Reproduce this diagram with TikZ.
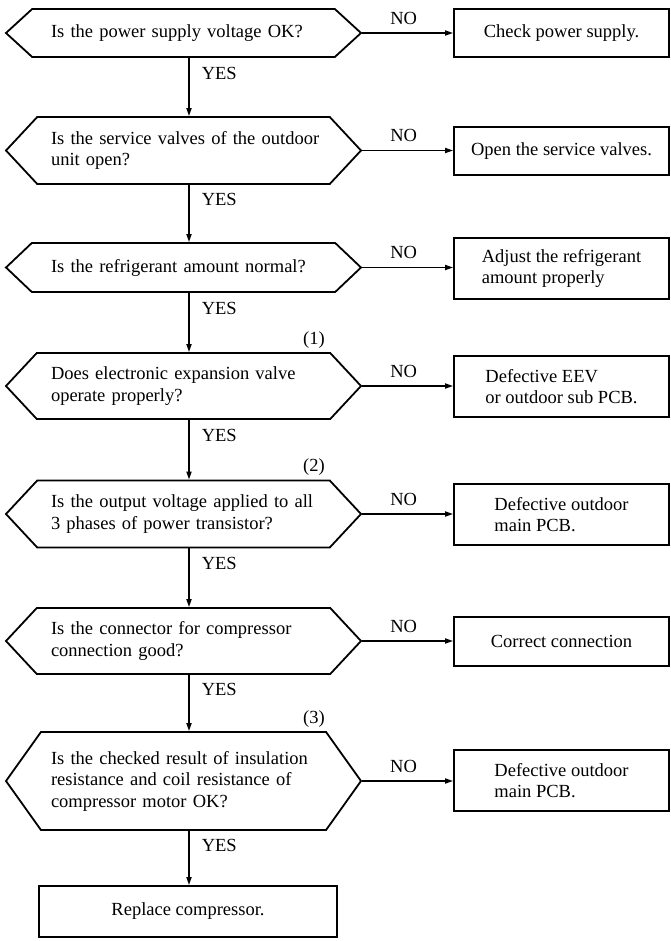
\documentclass[tikz,border=0pt]{standalone}
\usepackage{fontspec}
\setmainfont{Liberation Serif}
\usetikzlibrary{shapes.symbols,arrows.meta}

\newcommand*{\qx}{183.5}
\newcommand*{\ax}{561.5}

\begin{document}
\begin{tikzpicture}
[
	x=1pt,y=-1pt,
	every node/.style={font=\fontsize{18.5}{21.5}\selectfont},
	question/.style={signal,signal to=west and east,draw,line width=1.8pt,inner sep=0pt,text width=265pt,align=left,minimum width=355pt},
	action/.style={rectangle,draw,line width=1.8pt,inner sep=0pt,minimum width=215pt,align=left},
	lbl/.style={inner sep=0pt},
	flow/.style={->,line width=1.6pt},
	>={Triangle[length=8pt,width=5pt]}
]
	\useasboundingbox (0,0) rectangle (670,941);
	\coordinate (spine) at (189,0);

	% questions
	\node[question,minimum height=48pt,signal pointer angle=85] (q1) at (\qx,33) {Is the power supply voltage OK?};
	\node[question,minimum height=67pt,signal pointer angle=94] (q2) at (\qx,150.5) {\mbox{Is the service valves of the outdoor}\\unit open?};
	\node[question,minimum height=49pt,signal pointer angle=87] (q3) at (\qx,267.5) {Is the refrigerant amount normal?};
	\node[question,minimum height=66pt,signal pointer angle=94] (q4) at (\qx,386) {Does electronic expansion valve\\operate properly?};
	\node[question,minimum height=67pt,signal pointer angle=94] (q5) at (\qx,514) {\mbox{Is the output voltage applied to all}\\3 phases of power transistor?};
	\node[question,minimum height=66pt,signal pointer angle=94] (q6) at (\qx,641) {Is the connector for compressor\\connection good?};
	\node[question,minimum height=98pt,signal pointer angle=109] (q7) at (\qx,781) {Is the checked result of insulation\\resistance and coil resistance of\\compressor motor OK?};

	% check marks
	\node (m1) at (314,340) {(1)};
	\node (m2) at (314,467) {(2)};
	\node (m3) at (314,719) {(3)};

	% actions
	\node[action,minimum height=48pt] (b1) at (\ax,33) {Check power supply.};
	\node[action,minimum height=48pt] (b2) at (\ax,151) {Open the service valves.};
	\node[action,minimum height=61pt] (b3) at (\ax,268.5) {Adjust the refrigerant\\amount properly};
	\node[action,minimum height=61pt] (b4) at (\ax,386.5) {Defective EEV\\or outdoor sub PCB.};
	\node[action,minimum height=61pt] (b5) at (\ax,514.5) {Defective outdoor\\main PCB.};
	\node[action,minimum height=49pt] (b6) at (\ax,641.5) {Correct connection};
	\node[action,minimum height=61pt] (b7) at (\ax,780.5) {Defective outdoor\\main PCB.};
	\node[action,minimum width=298pt,minimum height=51pt] (fin) at (188,911.5) {Replace compressor.};

	% NO branches
	\foreach \a/\b in {q1/b1,q2/b2,q3/b3,q4/b4,q5/b5,q6/b6,q7/b7} {
		\draw[flow] (\a.east) -- node[lbl,above=8pt,xshift=-4pt] {NO} (\a.east -| \b.west);
	}

	% YES branches
	\foreach \a/\b in {q1/q2,q2/q3,q3/q4,q4/q5,q5/q6,q6/q7,q7/fin} {
		\draw[flow] (\a.south -| spine) -- node[lbl,right=12pt,pos=.26] {YES} (\b.north -| spine);
	}

\end{tikzpicture}
\end{document}
